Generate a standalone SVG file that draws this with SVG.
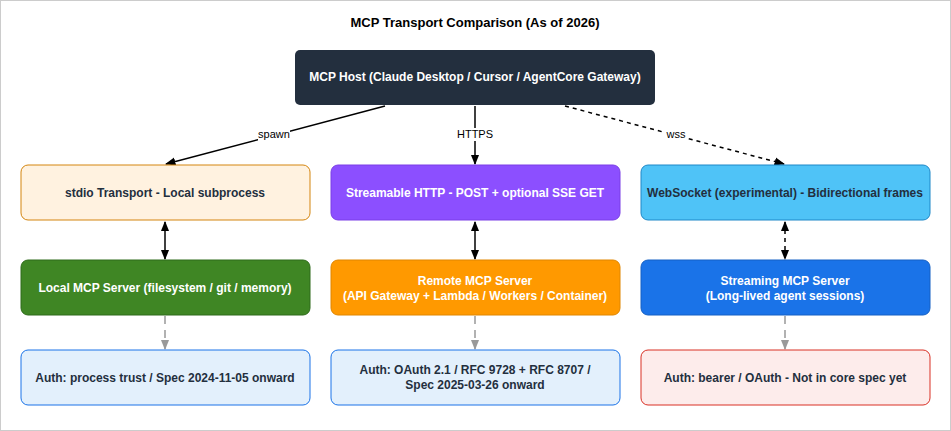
<svg xmlns="http://www.w3.org/2000/svg" width="951" height="431" viewBox="0 0 951 431">
<style>
text{font-family:"Liberation Sans",Arial,sans-serif;font-size:12px;font-weight:bold;text-anchor:middle}
.lbl{font-weight:normal;font-size:11px}
.e{fill:none;stroke:#000;stroke-width:1.5}
.g{fill:none;stroke:#999;stroke-width:1.5;stroke-dasharray:8 6}
</style>
<defs>
<marker id="a" viewBox="0 0 10 10" refX="9" refY="5" markerWidth="7" markerHeight="7" orient="auto-start-reverse"><path d="M0,1 L10,5 L0,9 z" fill="#000"/></marker>
<marker id="ag" viewBox="0 0 10 10" refX="9" refY="5" markerWidth="7" markerHeight="7" orient="auto"><path d="M0,1 L10,5 L0,9 z" fill="#999"/></marker>
</defs>
<rect x="0.5" y="0.5" width="950" height="430" fill="#fff" stroke="#ccc"/>
<text x="475" y="27" style="font-size:13px">MCP Transport Comparison (As of 2026)</text>
<g id="connectors">
<path class="e" d="M385,106 L166,164" marker-end="url(#a)"/>
<path class="e" d="M475,106 L475,164" marker-end="url(#a)"/>
<path class="e" d="M565,106 L784,164" stroke-dasharray="4 4" marker-end="url(#a)"/>
<path class="e" d="M165,222 L165,259" marker-start="url(#a)" marker-end="url(#a)"/>
<path class="e" d="M475,222 L475,259" marker-start="url(#a)" marker-end="url(#a)"/>
<path class="e" d="M785,222 L785,259" stroke-dasharray="4 4" marker-start="url(#a)" marker-end="url(#a)"/>
<path class="g" d="M165,316 L165,349" marker-end="url(#ag)"/>
<path class="g" d="M475,316 L475,349" marker-end="url(#ag)"/>
<path class="g" d="M785,316 L785,349" marker-end="url(#ag)"/>
<rect x="258" y="128" width="32" height="13" fill="#fff"/><text class="lbl" x="274" y="138">spawn</text>
<rect x="455" y="128" width="40" height="13" fill="#fff"/><text class="lbl" x="475" y="138">HTTPS</text>
<rect x="665" y="128" width="22" height="13" fill="#fff"/><text class="lbl" x="676" y="138">wss</text>
</g>
<g id="host"><rect x="295" y="50" width="360" height="55" rx="5" fill="#232f3e"/><text x="475" y="81" fill="#fff">MCP Host (Claude Desktop / Cursor / AgentCore Gateway)</text></g>
<g id="stdio"><rect x="21" y="165" width="289" height="55" rx="7" fill="#fff2e0" stroke="#d4850f"/><text x="165" y="197" fill="#232f3e">stdio Transport - Local subprocess</text></g>
<g id="http"><rect x="331" y="165" width="289" height="55" rx="7" fill="#8c4fff" stroke="#7a3fe6"/><text x="475" y="197" fill="#fff">Streamable HTTP - POST + optional SSE GET</text></g>
<g id="ws"><rect x="641" y="165" width="289" height="55" rx="7" fill="#4fc3f7" stroke="#1e88c8"/><text x="785" y="197" fill="#232f3e">WebSocket (experimental) - Bidirectional frames</text></g>
<g id="local"><rect x="21" y="260" width="289" height="55" rx="7" fill="#3f8624" stroke="#2e6b1a"/><text x="165" y="292" fill="#fff">Local MCP Server (filesystem / git / memory)</text></g>
<g id="remote"><rect x="331" y="260" width="289" height="55" rx="7" fill="#ff9900" stroke="#e08600"/><text x="475" y="285" fill="#fff">Remote MCP Server</text><text x="475" y="300" fill="#fff">(API Gateway + Lambda / Workers / Container)</text></g>
<g id="streaming"><rect x="641" y="260" width="289" height="55" rx="7" fill="#1a73e8" stroke="#1560c4"/><text x="785" y="285" fill="#fff">Streaming MCP Server</text><text x="785" y="300" fill="#fff">(Long-lived agent sessions)</text></g>
<g id="auth1"><rect x="21" y="350" width="289" height="55" rx="7" fill="#e3f0fc" stroke="#1a73e8"/><text x="165" y="382" fill="#232f3e">Auth: process trust / Spec 2024-11-05 onward</text></g>
<g id="auth2"><rect x="331" y="350" width="289" height="55" rx="7" fill="#e3f0fc" stroke="#1a73e8"/><text x="475" y="374" fill="#232f3e">Auth: OAuth 2.1 / RFC 9728 + RFC 8707 /</text><text x="475" y="389" fill="#232f3e">Spec 2025-03-26 onward</text></g>
<g id="auth3"><rect x="641" y="350" width="289" height="55" rx="7" fill="#fdeceb" stroke="#d93025"/><text x="785" y="382" fill="#232f3e">Auth: bearer / OAuth - Not in core spec yet</text></g>
</svg>
